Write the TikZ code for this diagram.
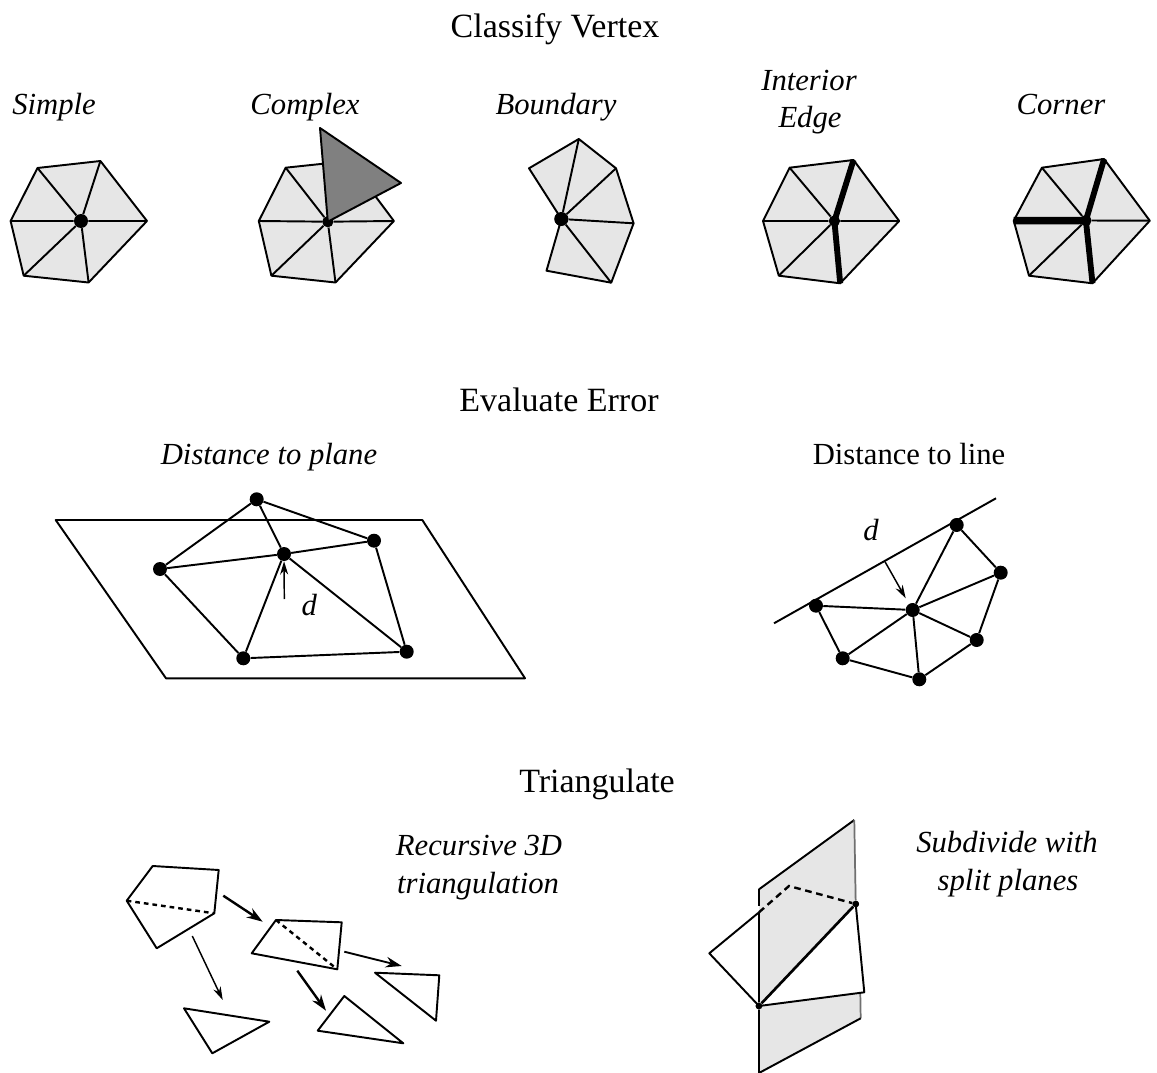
\documentclass[tikz,border=0pt]{standalone}
\usepackage{fontspec}
\setmainfont{Liberation Serif}
\usetikzlibrary{arrows.meta}

\tikzset{
  mesh/.style={draw=black, line width=1.45pt, line join=round},
  meshFill/.style={mesh, fill=patchGray},
  edgeThick/.style={draw=black, line width=4.4pt},
  vertexDot/.style={circle, fill=black, inner sep=0pt, minimum size=10.5pt},
  vertexSmall/.style={vertexDot, minimum size=8.5pt},
  tipDot/.style={vertexDot, minimum size=5pt},
  stepTitle/.style={font=\fontsize{25.5}{28}\selectfont},
  caseLabel/.style={font=\fontsize{23}{26}\selectfont\itshape},
  move/.style={draw=black, line width=1.8pt, -{Stealth[length=12pt,width=8pt]}},
  moveThin/.style={draw=black, line width=1.1pt, -{Stealth[length=10pt,width=6pt]}},
  splitLine/.style={draw=black, line width=1.8pt, dash pattern=on 3.5pt off 3pt}
}

\begin{document}
\begin{tikzpicture}[x=0.75pt, y=-0.75pt]

% Colours
\definecolor{patchGray}{HTML}{E6E6E6}
\definecolor{wedgeGray}{HTML}{808080}
\definecolor{edgeGray}{HTML}{707070}

\useasboundingbox (0,0) rectangle (1157,1073);

% Titles
\node[stepTitle] (tClassify) at (555,29) {Classify Vertex};
\node[stepTitle] (tEvaluate) at (559,400) {Evaluate Error};
\node[stepTitle] (tTriangulate) at (597,784) {Triangulate};

% Labels
\node[caseLabel] (lSimple) at (54,107) {Simple};
\node[caseLabel] (lComplex) at (305,107) {Complex};
\node[caseLabel] (lBoundary) at (556,107) {Boundary};
\node[caseLabel] (lInterior) at (809,81) {Interior};
\node[caseLabel] (lEdge) at (810,120) {Edge};
\node[caseLabel] (lCorner) at (1061,104) {Corner};
\node[caseLabel] (lPlane) at (269,457) {Distance to plane};
\node[caseLabel, font=\fontsize{23}{26}\selectfont] (lLine) at (909,454) {Distance to line};
\node[caseLabel] (lRecursive) at (479,846) {Recursive 3D};
\node[caseLabel] (lTriangulation) at (478,886) {triangulation};
\node[caseLabel] (lSubdivide) at (1007,842) {Subdivide with};
\node[caseLabel] (lSplit) at (1008,883) {split planes};

% Simple
\coordinate (sl) at (10.6,221);
\coordinate (stl) at (37.5,168);
\coordinate (str) at (100.4,161);
\coordinate (sr) at (147,221);
\coordinate (sbr) at (88.6,282.5);
\coordinate (sbl) at (23.7,275.7);
\node[vertexDot] (sc) at (81,221) {};
\draw[meshFill] (sl) -- (stl) -- (str) -- (sr) -- (sbr) -- (sbl) -- cycle;
\draw[mesh] (sc) -- (sl) (sc) -- (stl) (sc) -- (str) (sc) -- (sr) (sc) -- (sbr) (sc) -- (sbl);
\node[vertexDot] at (sc) {};

% Complex
\coordinate (cl) at (258.8,221);
\coordinate (ctl) at (285.7,167.7);
\coordinate (ctr) at (349,161);
\coordinate (cr) at (393.9,221);
\coordinate (cbr) at (335.5,282.5);
\coordinate (cbl) at (271.4,275.7);
\coordinate (cwa) at (320,128);
\coordinate (cwb) at (401,183);
\node[vertexSmall] (cc) at (327.8,221.7) {};
\draw[meshFill] (cl) -- (ctl) -- (ctr) -- (cr) -- (cbr) -- (cbl) -- cycle;
\draw[mesh] (cc) -- (cl) (cc) -- (ctl) (cc) -- (cr) (cc) -- (cbr) (cc) -- (cbl);
\node[vertexSmall] at (cc) {};
\draw[mesh, fill=wedgeGray] (cc.center) -- (cwa) -- (cwb) -- cycle;

% Boundary
\coordinate (bl) at (529,168.3);
\coordinate (bt) at (578.8,139);
\coordinate (bur) at (616,168.3);
\coordinate (br) at (633.6,223.3);
\coordinate (bbr) at (611.2,282.7);
\coordinate (bbl) at (546.5,270.7);
\node[vertexDot] (bc) at (561.4,219) {};
\draw[meshFill] (bc.center) -- (bl) -- (bt) -- (bur) -- (br) -- (bbr) -- (bbl) -- cycle;
\draw[mesh] (bc) -- (bt) (bc) -- (bur) (bc) -- (br) (bc) -- (bbr);
\node[vertexDot] at (bc) {};

% Interior edge
\coordinate (il) at (763,221);
\coordinate (itl) at (789.6,167.7);
\coordinate (itr) at (853.5,160);
\coordinate (ir) at (899.2,221);
\coordinate (ibr) at (840.2,283.3);
\coordinate (ibl) at (778.8,275.7);
\node[vertexSmall] (ic) at (834.4,221) {};
\draw[meshFill] (il) -- (itl) -- (itr) -- (ir) -- (ibr) -- (ibl) -- cycle;
\draw[mesh] (ic) -- (il) (ic) -- (itl) (ic) -- (ir) (ic) -- (ibl);
\draw[edgeThick] (ic.center) -- (itr) (ic.center) -- (ibr);
\node[vertexSmall] at (ic) {};

% Corner
\coordinate (kl) at (1013.7,220.7);
\coordinate (ktl) at (1041.9,167.7);
\coordinate (ktr) at (1104.1,159);
\coordinate (kr) at (1149.8,220.7);
\coordinate (kbr) at (1092.5,283.3);
\coordinate (kbl) at (1029,275.7);
\node[vertexSmall] (kc) at (1085.9,220.5) {};
\draw[meshFill] (kl) -- (ktl) -- (ktr) -- (kr) -- (kbr) -- (kbl) -- cycle;
\draw[mesh] (kc) -- (ktl) (kc) -- (kr) (kc) -- (kbl);
\draw[edgeThick] (kc.center) -- (ktr) (kc.center) -- (kbr);
\draw[edgeThick, line width=5.6pt] (kc.center) -- (kl);
\node[vertexSmall] at (kc) {};

% Distance to plane
\coordinate (pa) at (55.7,520);
\coordinate (pb) at (422.3,520);
\coordinate (pc) at (525,678.3);
\coordinate (pd) at (166,678.3);
\draw[mesh] (pa) -- (pb) -- (pc) -- (pd) -- cycle;
\node[vertexDot] (pTop) at (256.7,499.3) {};
\node[vertexDot] (pLeft) at (160,569) {};
\node[vertexDot] (pMid) at (284,554) {};
\node[vertexDot] (pRight) at (374,540.7) {};
\node[vertexDot] (pLowR) at (406.7,651.7) {};
\node[vertexDot] (pLowL) at (243.3,658.3) {};
\draw[mesh] (pTop) -- (pLeft) (pTop) -- (pMid) (pTop) -- (pRight)
  (pLeft) -- (pMid) (pMid) -- (pRight) (pLeft) -- (pLowL) (pLowL) -- (pMid)
  (pMid) -- (pLowR) (pRight) -- (pLowR) (pLowL) -- (pLowR);
\coordinate (pArrow) at (284.3,599);
\draw[moveThin] (pArrow) -- (pMid);
\node[caseLabel] (pDist) at (309.3,605) {d};

% Distance to line
\coordinate (la) at (774,623.3);
\coordinate (lb) at (996,498.3);
\draw[mesh] (la) -- (lb);
\node[vertexDot] (dA) at (956.7,525) {};
\node[vertexDot] (dB) at (1000.7,572.7) {};
\node[vertexDot] (dC) at (976.7,640) {};
\node[vertexDot] (dD) at (919.3,679.3) {};
\node[vertexDot] (dE) at (842.7,658.3) {};
\node[vertexDot] (dF) at (816,605.7) {};
\node[vertexDot] (dMid) at (912.7,610) {};
\draw[mesh] (dMid) -- (dA) (dMid) -- (dB) (dMid) -- (dC) (dMid) -- (dD) (dMid) -- (dE) (dMid) -- (dF)
  (dA) -- (dB) -- (dC) -- (dD) -- (dE) -- (dF);
\coordinate (dFoot) at (885,561.7);
\coordinate (dTip) at (905.7,598.3);
\draw[moveThin] (dFoot) -- (dTip);
\node[caseLabel] (dDist) at (871,530) {d};

% Recursive 3D triangulation
\coordinate (rA) at (126.7,900.7);
\coordinate (rB) at (152.7,866);
\coordinate (rC) at (218.7,870);
\coordinate (rD) at (214.3,913.3);
\coordinate (rE) at (156.7,948.3);
\draw[mesh] (rA) -- (rB) -- (rC) -- (rD) -- (rE) -- cycle;
\draw[splitLine] (rA) -- (rD);

\coordinate (qA) at (251.7,953.3);
\coordinate (qB) at (276,920);
\coordinate (qC) at (341.7,922.3);
\coordinate (qD) at (337.3,969.3);
\draw[mesh] (qA) -- (qB) -- (qC) -- (qD) -- cycle;
\draw[splitLine] (qB) -- (qD);

\coordinate (uA) at (184,1008.3);
\coordinate (uB) at (269.3,1021.7);
\coordinate (uC) at (212.3,1053.3);
\draw[mesh] (uA) -- (uB) -- (uC) -- cycle;

\coordinate (vA) at (344.3,996);
\coordinate (vB) at (403.3,1043.3);
\coordinate (vC) at (317.7,1030.7);
\draw[mesh] (vA) -- (vB) -- (vC) -- cycle;

\coordinate (wA) at (375,972.7);
\coordinate (wB) at (439.3,975.3);
\coordinate (wC) at (436,1020.7);
\draw[mesh] (wA) -- (wB) -- (wC) -- cycle;

% Arrows between the pieces
\coordinate (aOne) at (223.3,895.7);
\coordinate (aOneEnd) at (262.7,921.7);
\coordinate (aTwo) at (192.3,936);
\coordinate (aTwoEnd) at (222.7,1000);
\coordinate (aThree) at (297.3,970.7);
\coordinate (aThreeEnd) at (326,1010.7);
\coordinate (aFour) at (344.3,951.7);
\coordinate (aFourEnd) at (401.7,966);
\draw[move] (aOne) -- (aOneEnd);
\draw[moveThin] (aTwo) -- (aTwoEnd);
\draw[move] (aThree) -- (aThreeEnd);
\draw[move, line width=1.4pt] (aFour) -- (aFourEnd);

% Split planes
\coordinate (sA) at (759,889.3);
\coordinate (sB) at (854.3,820);
\coordinate (sC) at (860.7,1018.3);
\coordinate (sD) at (759,1073);
\coordinate (sE) at (709.3,953.3);
\coordinate (sF) at (759,912.3);
\coordinate (sG) at (789,886);
\coordinate (sJ) at (864.3,992.3);
\coordinate (sK) at (860.3,993);
\coordinate (sM) at (759,906);
\node[tipDot] (sUp) at (855.7,904) {};
\node[tipDot] (sLow) at (759,1006) {};
\fill[patchGray] (sA) -- (sB) -- (sC) -- (sD) -- cycle;
\fill[white] (sUp.center) -- (sJ) -- (sLow.center) -- cycle;
\draw[mesh] (sA) -- (sM);
\draw[mesh] (sA) -- (sB);
\draw[draw=edgeGray, line width=1.3pt] (sB) -- (sUp) (sK) -- (sC);
\draw[mesh] (sC) -- (sD) -- (sLow) -- (sF);
\draw[mesh] (sF) -- (sE) -- (sLow.center) -- (sJ) -- (sUp.center);
\draw[mesh, line width=2pt] (sLow) -- (sUp);
\draw[splitLine, dash pattern=on 5pt off 3.5pt] (sF) -- (sG) -- (sUp);
\node[tipDot] at (sUp) {};
\node[tipDot] at (sLow) {};

\end{tikzpicture}
\end{document}
